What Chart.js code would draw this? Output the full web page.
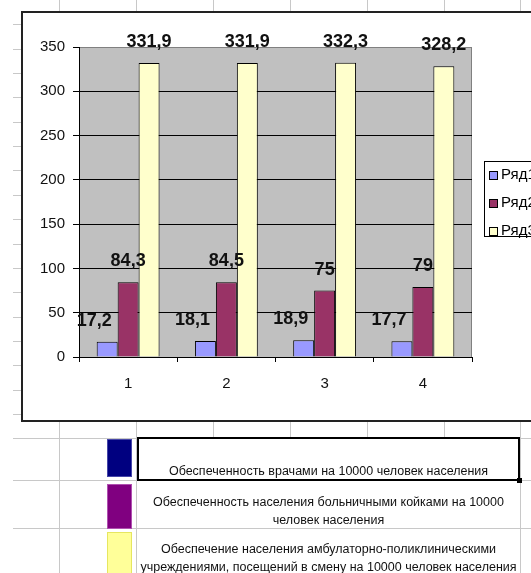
<!DOCTYPE html>
<html>
<head>
<meta charset="utf-8">
<script src="https://cdn.jsdelivr.net/npm/chart.js@4"></script>
<style>
  body { margin:0; width:531px; height:573px; overflow:hidden; position:relative; background:#fff;
         font-family:"Liberation Sans", Arial, sans-serif; }
  .ln { position:absolute; background:#c8c8c8; }
  #box { position:absolute; left:21px; top:11px; width:620px; height:411px; box-sizing:border-box;
         border:2px solid #222; background:#fff; }
  #c { position:absolute; left:0; top:0; }
  .sw { position:absolute; left:107px; width:25px; box-sizing:border-box; border:1px solid; }
  .cell { position:absolute; left:137px; width:383px; box-sizing:border-box; font-size:12.5px; color:#111;
          text-align:center; line-height:18px; white-space:normal; }
</style>
</head>
<body>
<div id="grid"></div>
<div id="box"></div>
<canvas id="c" width="640" height="573"></canvas>
<div id="table"></div>
<script>
//Datos
    var categorias = ['1', '2', '3', '4'];
    var series = ['Ряд1', 'Ряд2', 'Ряд3'];
    var vrachi = [17.2, 18.1, 18.9, 17.7];
    var koiki = [84.3, 84.5, 75, 79];
    var posescheniya = [331.9, 331.9, 332.3, 328.2];
    var yMin = 0, yMax = 350, yPaso = 50;
    var filas = [
        'Обеспеченность врачами на 10000 человек населения',
        'Обеспеченность населения больничными койками на 10000 человек населения',
        'Обеспечение населения амбулаторно-поликлиническими учреждениями, посещений в смену на 10000 человек населения'
    ];

//Hoja de Excel de fondo
    var grid = document.getElementById('grid');
    function linea(l, t, w, h){
        var d = document.createElement('div');
        d.className = 'ln';
        d.style.left = l + 'px'; d.style.top = t + 'px';
        d.style.width = w + 'px'; d.style.height = h + 'px';
        grid.appendChild(d);
    }
    [59, 136, 213, 290, 367, 444, 520].forEach(function(x){
        var alto = (x == 59 || x == 136 || x == 520) ? 573 : 437;
        linea(x, 0, 1, alto);
    });
    for(var r = 24.4; r < 440; r += 24.35) linea(13, Math.round(r), 600, 1);
    [480, 528].forEach(function(y){ linea(13, y, 600, 1); });

//Tabla de abajo
    var tabla = document.getElementById('table');
    var muestras = [
        {top:439, h:38, bg:'#000080', bd:'#4646a8'},
        {top:484, h:45, bg:'#800080', bd:'#b050b0'},
        {top:532, h:50, bg:'#ffff99', bd:'#e6e660'}
    ];
    muestras.forEach(function(m){
        var d = document.createElement('div');
        d.className = 'sw';
        d.style.top = m.top + 'px'; d.style.height = m.h + 'px';
        d.style.background = m.bg; d.style.borderColor = m.bd;
        tabla.appendChild(d);
    });
    var celdas = [{top:437, h:44, pt:23}, {top:481, h:47, pt:12}, {top:528, h:48, pt:12}];
    celdas.forEach(function(c, i){
        var d = document.createElement('div');
        d.className = 'cell';
        d.style.top = c.top + 'px'; d.style.height = c.h + 'px';
        d.style.paddingTop = c.pt + 'px';
        if(i == 0) d.style.border = '2px solid #000';
        d.textContent = filas[i];
        tabla.appendChild(d);
    });
    var asa = document.createElement('div');
    asa.style.cssText = 'position:absolute;left:517px;top:478px;width:5px;height:5px;background:#000';
    tabla.appendChild(asa);

//Plugins
    var fuente = '"Liberation Sans", Arial, sans-serif';
    var fondoPlot = {
        id: 'fondoPlot',
        beforeDraw: function(chart){
            var a = chart.chartArea, ctx = chart.ctx;
            ctx.save();
            ctx.fillStyle = '#c0c0c0';
            ctx.fillRect(a.left, a.top, a.right - a.left, a.bottom - a.top);
            ctx.strokeStyle = '#808080';
            ctx.lineWidth = 1;
            ctx.beginPath();
            ctx.moveTo(a.left, a.top + 0.5); ctx.lineTo(a.right - 0.5, a.top + 0.5);
            ctx.lineTo(a.right - 0.5, a.bottom);
            ctx.stroke();
            ctx.restore();
        }
    };
    var etiquetas = {
        id: 'etiquetas',
        afterDatasetsDraw: function(chart){
            var ctx = chart.ctx;
            ctx.save();
            ctx.font = 'bold 18px ' + fuente;
            ctx.fillStyle = '#111';
            ctx.textAlign = 'center';
            ctx.textBaseline = 'middle';
            chart.data.datasets.forEach(function(ds, i){
                chart.getDatasetMeta(i).data.forEach(function(bar, j){
                    var txt = String(ds.data[j]).replace('.', ',');
                    ctx.fillText(txt, bar.x + (ds.dx || 0), bar.y - 21);
                });
            });
            ctx.restore();
        }
    };
    var leyenda = {
        id: 'leyenda',
        afterDraw: function(chart){
            var ctx = chart.ctx;
            ctx.save();
            ctx.fillStyle = '#fff';
            ctx.fillRect(484, 161, 120, 75);
            ctx.strokeStyle = '#000';
            ctx.lineWidth = 1;
            ctx.strokeRect(484.5, 161.5, 120, 75);
            ctx.font = '15px ' + fuente;
            ctx.textBaseline = 'middle';
            chart.data.datasets.forEach(function(ds, i){
                var yc = 175 + i * 28;
                ctx.fillStyle = ds.backgroundColor;
                ctx.fillRect(489, yc - 4, 8, 8);
                ctx.strokeRect(489.5, yc - 3.5, 8, 8);
                ctx.fillStyle = '#000';
                ctx.fillText(ds.label, 501, yc);
            });
            ctx.restore();
        }
    };

//Gráfico
    var canvasW = 640;
    new Chart(document.getElementById('c'), {
        type: 'bar',
        data: {
            labels: categorias,
            datasets: [
                {label: series[0], data: vrachi, backgroundColor: '#9999ff', dx: -13},
                {label: series[1], data: koiki, backgroundColor: '#993366'},
                {label: series[2], data: posescheniya, backgroundColor: '#ffffcc'}
            ]
        },
        options: {
            responsive: false,
            animation: false,
            layout: {padding: {left: 0, top: 47, right: canvasW - 472, bottom: 0}},
            datasets: {bar: {categoryPercentage: 0.64, barPercentage: 1, borderColor: '#000', borderWidth: 1}},
            plugins: {legend: {display: false}, tooltip: {enabled: false}},
            scales: {
                x: {
                    grid: {offset: true, drawOnChartArea: false, tickLength: 5, color: '#000'},
                    border: {color: '#000'},
                    ticks: {font: {family: fuente, size: 15}, color: '#111', padding: 13},
                    afterFit: function(s){ s.height = 216; }
                },
                y: {
                    min: yMin, max: yMax,
                    ticks: {stepSize: yPaso, font: {family: fuente, size: 15}, color: '#111', padding: 8},
                    grid: {
                        color: function(c){ return c.tick && c.tick.value == yMax ? '#808080' : '#000'; },
                        tickColor: '#000', tickLength: 6
                    },
                    border: {color: '#000'},
                    afterFit: function(s){ s.width = 79; }
                }
            }
        },
        plugins: [fondoPlot, etiquetas, leyenda]
    });
</script>
</body>
</html>
